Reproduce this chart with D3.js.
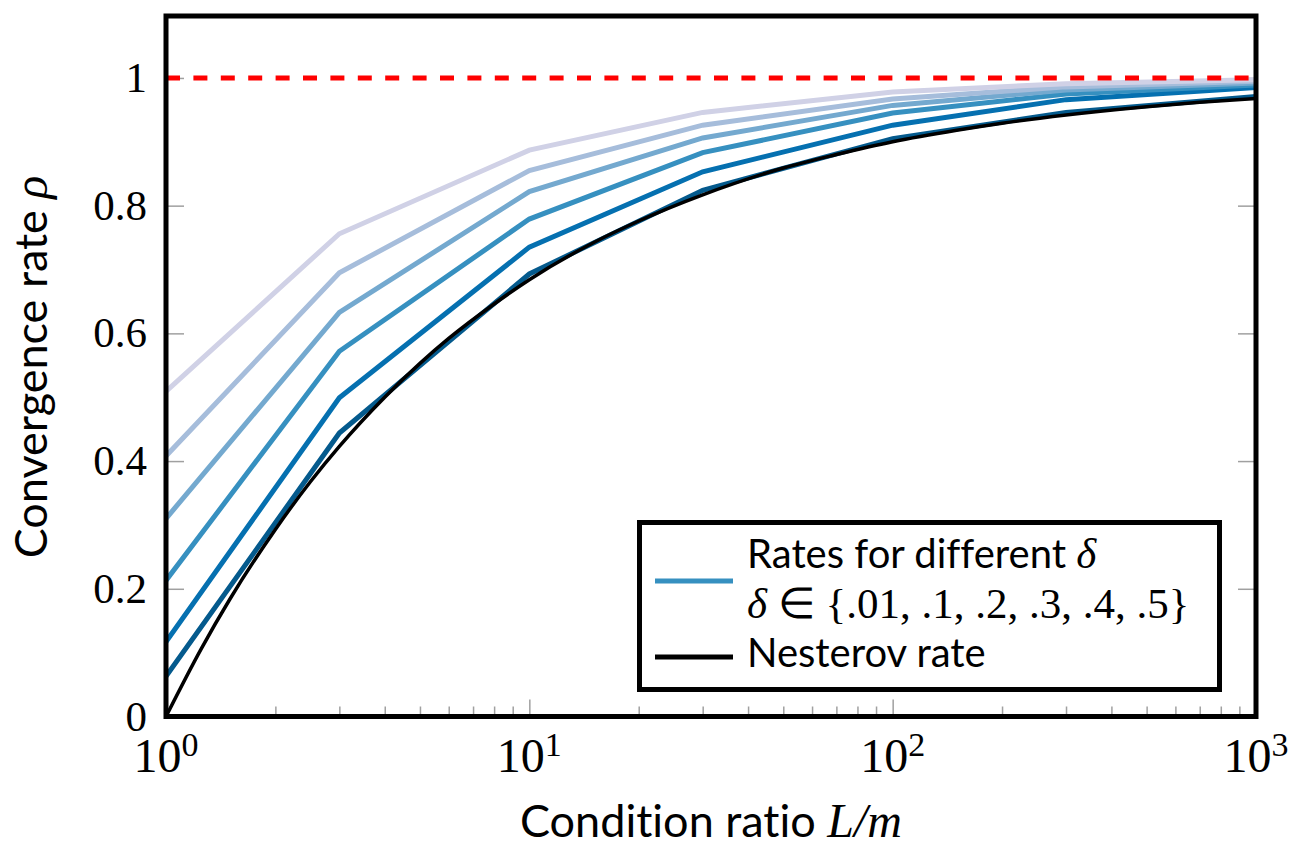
<!DOCTYPE html>
<html>
<head>
<meta charset="utf-8">
<script src="https://cdn.jsdelivr.net/npm/d3@7"></script>
<style>
  html, body { margin: 0; padding: 0; background: #fff; }
  svg { display: block; }
  svg text { font-variant-ligatures: none; font-feature-settings: "liga" 0, "clig" 0; }
</style>
</head>
<body>
<svg id="chart" width="1291" height="849"></svg>
<script>
// Condition ratios at which the delta-dependent rates were evaluated
const ratios = [1, 3, 10, 30, 100, 300, 1000];

// Convergence rate for each delta (one array per delta)
const rateDelta001 = [0.063, 0.444, 0.693, 0.824, 0.905, 0.946, 0.971];
const rateDelta01  = [0.117, 0.499, 0.735, 0.853, 0.926, 0.966, 0.985];
const rateDelta02  = [0.213, 0.572, 0.779, 0.883, 0.945, 0.975, 0.989];
const rateDelta03  = [0.310, 0.633, 0.822, 0.906, 0.957, 0.981, 0.992];
const rateDelta04  = [0.408, 0.695, 0.855, 0.926, 0.967, 0.986, 0.995];
const rateDelta05  = [0.509, 0.756, 0.887, 0.946, 0.978, 0.991, 0.997];

const deltaSeries = [rateDelta001, rateDelta01, rateDelta02, rateDelta03, rateDelta04, rateDelta05];
const deltaColors = ["#045a8d", "#0570b0", "#3690c0", "#74a9cf", "#a6bddb", "#d0d1e6"];

// Nesterov rate, densely sampled along the condition ratio
const nesterovRatio = [1, 1.25, 1.5, 2, 2.5, 3, 4, 5, 6, 8, 10, 15, 20, 30, 50, 70, 100, 150, 200, 300, 500, 700, 1000];
const nesterovRate  = [0, 0.106, 0.184, 0.293, 0.368, 0.423, 0.500, 0.553, 0.592, 0.646, 0.684, 0.742, 0.776, 0.817,
                       0.859, 0.880, 0.900, 0.918, 0.929, 0.942, 0.955, 0.962, 0.968];

// Axis ticks
const yTickValues = [0, 0.2, 0.4, 0.6, 0.8, 1];
const yTickLabels = ["0", "0.2", "0.4", "0.6", "0.8", "1"];
const xTickValues = [1, 10, 100, 1000];
const xTickExponents = ["0", "1", "2", "3"];
const upperBound = 1;

const svg = d3.select("#chart");
const plot = { left: 166, right: 1256, top: 16, bottom: 716.5 };

const x = d3.scaleLog().domain([1, 1000]).range([plot.left, plot.right]);
const y = d3.scaleLinear().domain([0, 1.097]).range([plot.bottom, plot.top]);

const serif = "'Liberation Serif', 'Times New Roman', serif";
const sans = "Lato, 'Liberation Sans', sans-serif";

svg.append("defs").append("clipPath").attr("id", "plot-clip")
  .append("rect")
  .attr("x", plot.left).attr("y", plot.top)
  .attr("width", plot.right - plot.left).attr("height", plot.bottom - plot.top);

// Minor and major ticks, pointing into the plot
const minorX = [];
for (let e = 0; e < 3; e++) for (let m = 2; m <= 9; m++) minorX.push(m * Math.pow(10, e));

const tickGray = "#a0a0a0";
function styleTicks(g) {
  g.select(".domain").remove();
  g.selectAll("line").attr("stroke", tickGray).attr("stroke-width", 1.5);
  g.selectAll("text").remove();
}

svg.append("g").attr("transform", `translate(0,${plot.bottom})`)
  .call(d3.axisBottom(x).tickValues(minorX).tickSize(-10).tickFormat(""))
  .call(styleTicks);
svg.append("g").attr("transform", `translate(0,${plot.bottom})`)
  .call(d3.axisBottom(x).tickValues(xTickValues).tickSize(-17).tickFormat(""))
  .call(styleTicks);
svg.append("g").attr("transform", `translate(${plot.left},0)`)
  .call(d3.axisLeft(y).tickValues(yTickValues).tickSize(-18).tickFormat(""))
  .call(styleTicks);
svg.append("g").attr("transform", `translate(${plot.right},0)`)
  .call(d3.axisRight(y).tickValues(yTickValues).tickSize(-18).tickFormat(""))
  .call(styleTicks);

// Curves
const lines = svg.append("g").attr("clip-path", "url(#plot-clip)");
const deltaLine = d3.line().x((d, i) => x(ratios[i])).y(d => y(d));

deltaSeries.forEach((series, k) => {
  lines.append("path")
    .datum(series)
    .attr("d", deltaLine)
    .attr("fill", "none")
    .attr("stroke", deltaColors[k])
    .attr("stroke-width", 5)
    .attr("stroke-linejoin", "miter");
});

const nesterovLine = d3.line()
  .x((d, i) => x(nesterovRatio[i]))
  .y(d => y(d))
  .curve(d3.curveMonotoneX);

lines.append("path")
  .datum(nesterovRate)
  .attr("d", nesterovLine)
  .attr("fill", "none")
  .attr("stroke", "#000")
  .attr("stroke-width", 3.5);

// Upper bound rho = 1
lines.append("line")
  .attr("x1", plot.left).attr("x2", plot.right)
  .attr("y1", y(upperBound)).attr("y2", y(upperBound))
  .attr("stroke", "#ff0000")
  .attr("stroke-width", 5)
  .attr("stroke-dasharray", "14 13.4");

// Frame
svg.append("rect")
  .attr("x", plot.left).attr("y", plot.top)
  .attr("width", plot.right - plot.left).attr("height", plot.bottom - plot.top)
  .attr("fill", "none").attr("stroke", "#000").attr("stroke-width", 5);

// Y tick labels
svg.append("g").selectAll("text")
  .data(yTickValues)
  .join("text")
  .attr("x", 147)
  .attr("y", d => y(d) + 14)
  .attr("text-anchor", "end")
  .attr("font-family", serif)
  .attr("font-size", 43)
  .text((d, i) => yTickLabels[i]);

// X tick labels: powers of ten
const xLab = svg.append("g").selectAll("text")
  .data(xTickValues)
  .join("text")
  .attr("x", d => x(d))
  .attr("y", 772)
  .attr("text-anchor", "middle")
  .attr("font-family", serif)
  .attr("font-size", 48);
xLab.append("tspan").text("10");
xLab.append("tspan").attr("dy", -16).attr("font-size", 34).text((d, i) => xTickExponents[i]);

// Axis titles
const xTitle = svg.append("text")
  .attr("x", 711).attr("y", 837)
  .attr("text-anchor", "middle")
  .attr("font-family", sans)
  .attr("font-size", 45);
xTitle.append("tspan").text("Condition ratio ");
xTitle.append("tspan").attr("font-family", serif).attr("font-style", "italic").attr("font-size", 48).text("L/m");

const yTitle = svg.append("text")
  .attr("transform", "translate(47,367) rotate(-90)")
  .attr("text-anchor", "middle")
  .attr("font-family", sans)
  .attr("font-size", 45);
yTitle.append("tspan").text("Convergence rate ");
yTitle.append("tspan").attr("font-family", serif).attr("font-style", "italic").attr("font-size", 48).text("ρ");

// Legend
const legend = svg.append("g");
legend.append("rect")
  .attr("x", 639.5).attr("y", 522.5)
  .attr("width", 580).attr("height", 167)
  .attr("fill", "#fff").attr("stroke", "#000").attr("stroke-width", 5);

legend.append("line")
  .attr("x1", 655).attr("x2", 733).attr("y1", 581).attr("y2", 581)
  .attr("stroke", deltaColors[2]).attr("stroke-width", 5);
legend.append("line")
  .attr("x1", 655).attr("x2", 733).attr("y1", 657).attr("y2", 657)
  .attr("stroke", "#000").attr("stroke-width", 5);

const l1 = legend.append("text")
  .attr("x", 747).attr("y", 568)
  .attr("font-family", sans).attr("font-size", 40);
l1.append("tspan").text("Rates for different ");
l1.append("tspan").attr("font-family", serif).attr("font-style", "italic").attr("font-size", 43).text("δ");

const l2 = legend.append("text")
  .attr("x", 747).attr("y", 618)
  .attr("font-family", serif).attr("font-size", 43);
l2.append("tspan").attr("font-style", "italic").text("δ");
l2.append("tspan").text(" ∈ {.01, .1, .2, .3, .4, .5}");

legend.append("text")
  .attr("x", 747).attr("y", 667)
  .attr("font-family", sans).attr("font-size", 40)
  .text("Nesterov rate");
</script>
</body>
</html>
